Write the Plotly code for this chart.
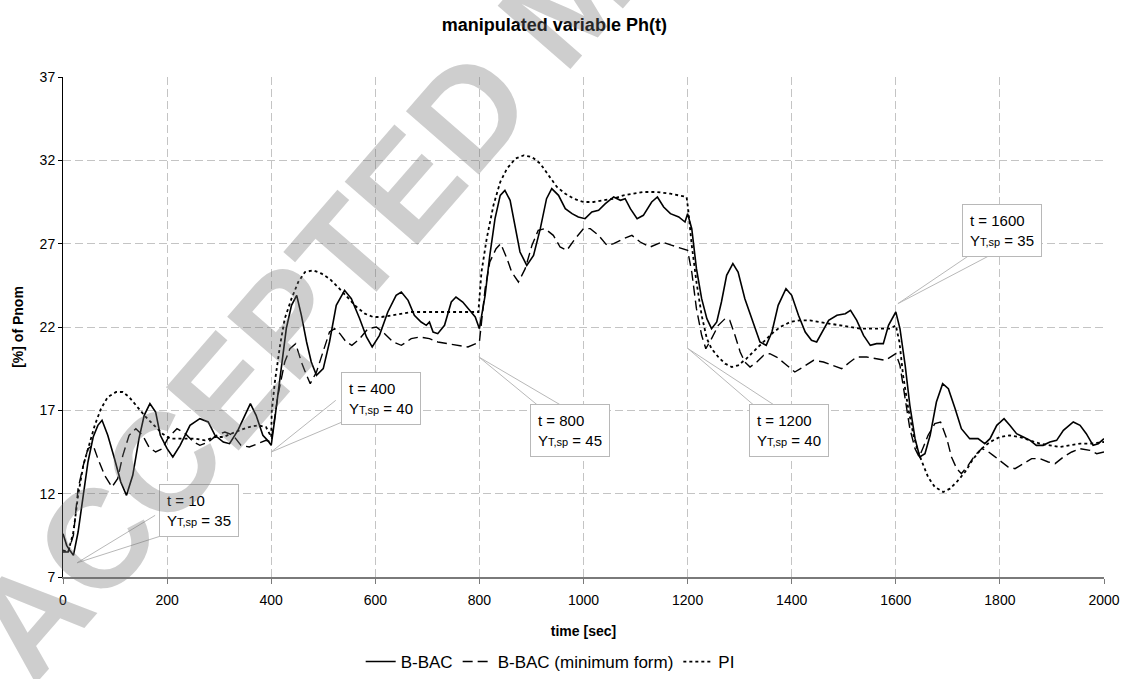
import plotly.graph_objects as go

# ---------------- data ----------------
t_bbac = [0, 7, 13, 20, 29, 39, 48, 58, 67, 75, 86, 99, 111, 122, 134, 146, 156, 167, 178, 187,
          200, 211, 225, 244, 263, 279, 292, 308, 320, 336, 352, 360, 371, 384, 393, 400, 407, 420,
          429, 439, 449, 458, 468, 477, 487, 500, 512, 525, 541, 554, 570, 583, 594, 608, 624, 640,
          650, 663, 675, 688, 698, 704, 711, 720, 733, 746, 755, 768, 784, 792, 800, 811, 820, 830,
          840, 849, 859, 869, 878, 891, 904, 917, 929, 939, 952, 965, 978, 990, 1003, 1016, 1029,
          1042, 1058, 1071, 1080, 1090, 1103, 1115, 1131, 1142, 1154, 1167, 1183, 1195, 1200, 1208,
          1217, 1227, 1237, 1246, 1256, 1265, 1275, 1287, 1297, 1310, 1323, 1339, 1351, 1362, 1374,
          1389, 1400, 1413, 1426, 1438, 1448, 1458, 1471, 1487, 1503, 1513, 1525, 1538, 1551, 1563,
          1576, 1586, 1594, 1600, 1608, 1618, 1627, 1637, 1646, 1656, 1666, 1678, 1690, 1701, 1714,
          1726, 1742, 1758, 1771, 1781, 1794, 1808, 1819, 1832, 1845, 1858, 1870, 1883, 1896, 1909,
          1922, 1941, 1954, 1966, 1979, 1989, 2000]
y_bbac = [9.6, 8.9, 8.6, 8.3, 9.7, 11.9, 13.9, 15.4, 16.1, 16.4, 15.5, 14.1, 12.7, 11.9, 13.1, 15.3,
          16.7, 17.4, 16.9, 15.5, 14.7, 14.2, 14.9, 16.1, 16.5, 16.3, 15.5, 15.1, 15.0, 15.8, 16.9,
          17.4, 16.7, 15.5, 15.2, 14.9, 16.5, 19.9, 21.9, 23.3, 23.9, 22.7, 21.1, 19.9, 19.1, 19.5,
          21.1, 23.3, 24.2, 23.7, 22.5, 21.4, 20.8, 21.5, 22.9, 23.9, 24.1, 23.6, 22.7, 22.3, 22.1,
          22.3, 21.7, 21.6, 22.1, 23.5, 23.8, 23.5, 22.9, 22.6, 21.9, 23.9, 26.3, 28.5, 29.9, 30.2,
          29.6, 27.9, 26.5, 25.7, 26.3, 27.9, 29.7, 30.3, 29.9, 29.1, 28.8, 28.6, 28.5, 28.9, 29.0,
          29.4, 29.8, 29.6, 29.7, 29.1, 28.5, 28.7, 29.5, 29.8, 29.2, 28.8, 28.6, 28.3, 28.8, 27.9,
          25.5, 23.7, 22.5, 21.9, 22.3, 23.5, 25.1, 25.8, 25.3, 23.7, 22.5, 21.1, 20.9, 21.7, 23.3,
          24.3, 23.9, 22.7, 21.7, 21.2, 21.1, 21.7, 22.4, 22.7, 22.8, 23.0, 22.4, 21.5, 20.9, 21.0,
          21.0, 22.1, 22.6, 22.9, 21.9, 19.7, 17.3, 15.3, 14.2, 14.4, 15.5, 17.5, 18.6, 18.3, 17.1,
          15.9, 15.3, 15.3, 15.0, 15.3, 16.1, 16.5, 16.1, 15.6, 15.4, 15.2, 14.9, 14.9, 15.1, 15.2,
          15.8, 16.3, 16.1, 15.6, 14.9, 15.0, 15.3]

t_min = [0, 10, 20, 29, 39, 48, 58, 67, 80, 94, 105, 115, 127, 140, 153, 165, 178, 191, 203, 219,
         235, 251, 263, 279, 295, 311, 327, 342, 358, 374, 390, 400, 413, 426, 436, 447, 458, 468,
         475, 487, 500, 512, 522, 532, 544, 555, 570, 586, 602, 618, 634, 650, 669, 685, 704, 720,
         739, 758, 778, 800, 811, 820, 832, 841, 853, 862, 875, 888, 901, 913, 926, 942, 955, 968,
         984, 1000, 1013, 1029, 1045, 1058, 1077, 1093, 1109, 1128, 1151, 1170, 1192, 1200, 1208,
         1217, 1227, 1235, 1246, 1259, 1272, 1281, 1291, 1301, 1310, 1320, 1333, 1346, 1358, 1371,
         1387, 1406, 1422, 1442, 1461, 1480, 1496, 1512, 1525, 1544, 1563, 1580, 1600, 1608, 1618,
         1627, 1637, 1645, 1653, 1662, 1675, 1686, 1698, 1707, 1717, 1726, 1739, 1752, 1765, 1774,
         1787, 1800, 1816, 1829, 1845, 1861, 1877, 1893, 1906, 1922, 1938, 1954, 1973, 1986, 2000]
y_min = [8.5, 8.5, 9.5, 12.3, 13.7, 14.7, 14.9, 14.1, 13.1, 12.4, 12.9, 14.3, 15.5, 15.9, 15.5,
         14.8, 14.5, 14.7, 15.4, 15.9, 15.6, 15.1, 14.9, 15.1, 15.5, 15.7, 15.5, 14.9, 14.8, 15.0,
         15.2, 15.1, 17.9, 19.9, 20.7, 21.0, 19.9, 19.1, 18.6, 19.3, 20.5, 21.7, 21.9, 21.6, 21.1,
         20.9, 21.3, 21.9, 22.0, 21.6, 21.1, 20.9, 21.3, 21.4, 21.3, 21.1, 21.0, 20.9, 20.8, 21.1,
         24.3, 25.9, 26.7, 27.0, 26.1, 25.3, 24.7, 25.5, 26.9, 27.8, 27.9, 27.5, 26.8, 26.6, 27.3,
         27.9, 27.9, 27.5, 26.9, 27.0, 27.3, 27.5, 27.1, 26.8, 27.1, 26.9, 26.7, 26.6, 25.3, 23.1,
         21.5, 20.7, 21.3, 22.1, 22.5, 22.4, 21.5, 20.5, 19.9, 19.6, 19.9, 20.3, 20.4, 20.2, 19.8,
         19.3, 19.6, 20.0, 19.9, 19.7, 19.5, 19.9, 20.2, 20.2, 20.1, 20.0, 20.4, 19.7, 17.7, 15.9,
         14.7, 14.2, 14.8, 15.5, 16.2, 16.3, 15.3, 14.2, 13.5, 13.2, 13.7, 14.3, 14.7, 14.6, 14.3,
         14.0, 13.6, 13.5, 13.8, 14.1, 14.1, 13.9, 13.8, 14.2, 14.5, 14.7, 14.6, 14.4, 14.5]

t_pi = [0, 10, 20, 29, 39, 51, 61, 73, 86, 102, 115, 127, 143, 159, 175, 191, 206, 222, 238, 254,
        273, 292, 308, 323, 339, 358, 374, 390, 400, 401, 407, 417, 426, 439, 452, 465, 481, 497,
        512, 528, 548, 564, 580, 596, 612, 631, 650, 669, 695, 720, 746, 771, 798, 804, 814, 827,
        840, 853, 869, 885, 901, 917, 933, 949, 965, 981, 1000, 1019, 1038, 1058, 1077, 1096,
        1115, 1141, 1167, 1198, 1201, 1208, 1217, 1227, 1237, 1246, 1259, 1272, 1285, 1297, 1313,
        1329, 1346, 1362, 1378, 1397, 1416, 1435, 1454, 1474, 1493, 1512, 1531, 1551, 1570, 1589,
        1600, 1607, 1614, 1624, 1634, 1643, 1653, 1662, 1675, 1691, 1704, 1717, 1733, 1749, 1765,
        1781, 1800, 1819, 1838, 1858, 1877, 1896, 1915, 1934, 1954, 1973, 2000]
y_pi = [8.6, 8.5, 9.7, 11.9, 13.7, 15.1, 16.1, 17.1, 17.8, 18.1, 18.1, 17.8, 17.2, 16.6, 16.1,
        15.6, 15.3, 15.3, 15.3, 15.3, 15.2, 15.4, 15.4, 15.6, 15.8, 16.0, 16.1, 16.0, 15.4, 16.9,
        18.7, 20.9, 22.5, 23.7, 24.7, 25.3, 25.4, 25.2, 24.9, 24.4, 23.7, 23.2, 22.8, 22.6, 22.6,
        22.7, 22.8, 22.9, 22.9, 22.9, 22.9, 22.9, 22.9, 25.3, 27.3, 29.3, 30.7, 31.5, 32.1, 32.3,
        32.2, 31.8, 31.1, 30.4, 30.0, 29.7, 29.5, 29.5, 29.6, 29.7, 29.9, 30.0, 30.1, 30.1, 30.0,
        29.8, 29.1, 26.9, 24.7, 22.7, 21.3, 20.7, 20.2, 19.8, 19.6, 19.7, 20.1, 20.6, 21.1, 21.6,
        22.0, 22.3, 22.4, 22.4, 22.3, 22.2, 22.1, 22.0, 21.9, 21.9, 21.9, 21.9, 22.1, 21.1, 19.1,
        17.1, 15.5, 14.5, 13.7, 13.0, 12.4, 12.1, 12.3, 12.7, 13.3, 14.1, 14.7, 15.1, 15.4, 15.5,
        15.4, 15.2, 15.0, 14.9, 14.8, 14.9, 15.0, 15.0, 15.1]

series_names = ["B-BAC", "B-BAC (minimum form)", "PI"]

# set-point change callouts
callout_t = [10, 400, 800, 1200, 1600]
callout_sp = [35, 40, 45, 40, 35]
# label box centres and arrow tips (axis units)
box_t = [261, 611, 974, 1395, 1804]
box_y = [11.0, 17.7, 15.8, 15.8, 27.8]
tip_t = [27, 400, 799, 1201, 1604]
tip_y = [7.85, 14.5, 20.2, 20.7, 23.4]
base1_t = [177, 524, 920, 1335, 1746]
base1_y = [10.7, 17.6, 17.1, 17.1, 26.4]
base2_t = [202, 544, 968, 1377, 1787]
base2_y = [9.6, 16.4, 17.1, 17.1, 26.4]

FONT = "Liberation Sans, Arial, sans-serif"

fig = go.Figure()
fig.add_trace(go.Scatter(x=t_bbac, y=y_bbac, mode="lines", name=series_names[0],
                         line=dict(color="black", width=1.6, dash="solid")))
fig.add_trace(go.Scatter(x=t_min, y=y_min, mode="lines", name=series_names[1],
                         line=dict(color="black", width=1.4, dash="10px,5px")))
fig.add_trace(go.Scatter(x=t_pi, y=y_pi, mode="lines", name=series_names[2],
                         line=dict(color="black", width=1.8, dash="3px,3px")))

shapes = []
annotations = []
for i in range(len(callout_t)):
    shapes.append(dict(type="path", xref="x", yref="y",
                       path=f"M {base1_t[i]},{base1_y[i]} L {tip_t[i]},{tip_y[i]} L {base2_t[i]},{base2_y[i]}",
                       line=dict(color="#b8b8b8", width=1), layer="above"))
    annotations.append(dict(
        x=box_t[i], y=box_y[i], xref="x", yref="y", showarrow=False, align="left",
        text=f"t = {callout_t[i]}<br>Y<span style='font-size:11px'>T,sp</span> = {callout_sp[i]}",
        font=dict(family=FONT, size=15, color="black"),
        bgcolor="white", bordercolor="#b8b8b8", borderwidth=1, borderpad=7))

# journal watermark
annotations.append(dict(
    text="<b>ACCEPTED MANUSCRIPT</b>", x=0.485, y=1.16, xref="paper", yref="paper",
    showarrow=False, textangle=-49, xanchor="center", yanchor="middle",
    font=dict(family=FONT, size=140, color="rgba(110,110,110,0.34)")))

fig.update_layout(
    width=1123, height=679,
    margin=dict(l=63, r=19, t=77, b=102, autoexpand=False),
    paper_bgcolor="white", plot_bgcolor="white",
    font=dict(family=FONT, size=14, color="black"),
    title=dict(text="<b>manipulated variable Ph(t)</b>", x=0.472, xref="paper",
               y=1 - 25 / 679, yref="container", yanchor="middle", xanchor="center",
               font=dict(family=FONT, size=18, color="black")),
    xaxis=dict(range=[0, 2000], tickmode="linear", tick0=0, dtick=200, automargin=False,
               showgrid=True, gridcolor="#c4c4c4", griddash="8px,4px", gridwidth=1,
               showline=True, linecolor="#7a7a7a", linewidth=1.5,
               ticks="outside", ticklen=5, tickcolor="#7a7a7a", ticklabelstandoff=4,
               tickfont=dict(family=FONT, size=14), zeroline=False,
               title=dict(text="<b>time [sec]</b>", standoff=20,
                          font=dict(family=FONT, size=14))),
    yaxis=dict(range=[7, 37], tickmode="linear", tick0=7, dtick=5, automargin=False,
               showgrid=True, gridcolor="#c4c4c4", griddash="8px,4px", gridwidth=1,
               showline=True, linecolor="black", linewidth=1,
               ticks="outside", ticklen=4, tickcolor="black",
               tickfont=dict(family=FONT, size=14), zeroline=False,
               title=dict(text="<b>[%] of Pnom</b>", standoff=12,
                          font=dict(family=FONT, size=14))),
    legend=dict(orientation="h", x=0.468, xanchor="center", y=-0.17, yanchor="middle",
                font=dict(family=FONT, size=17), bgcolor="rgba(0,0,0,0)"),
    shapes=shapes, annotations=annotations,
)

fig.write_html("out.html", config={"displayModeBar": False},
               post_script="document.body.style.margin='0';")
